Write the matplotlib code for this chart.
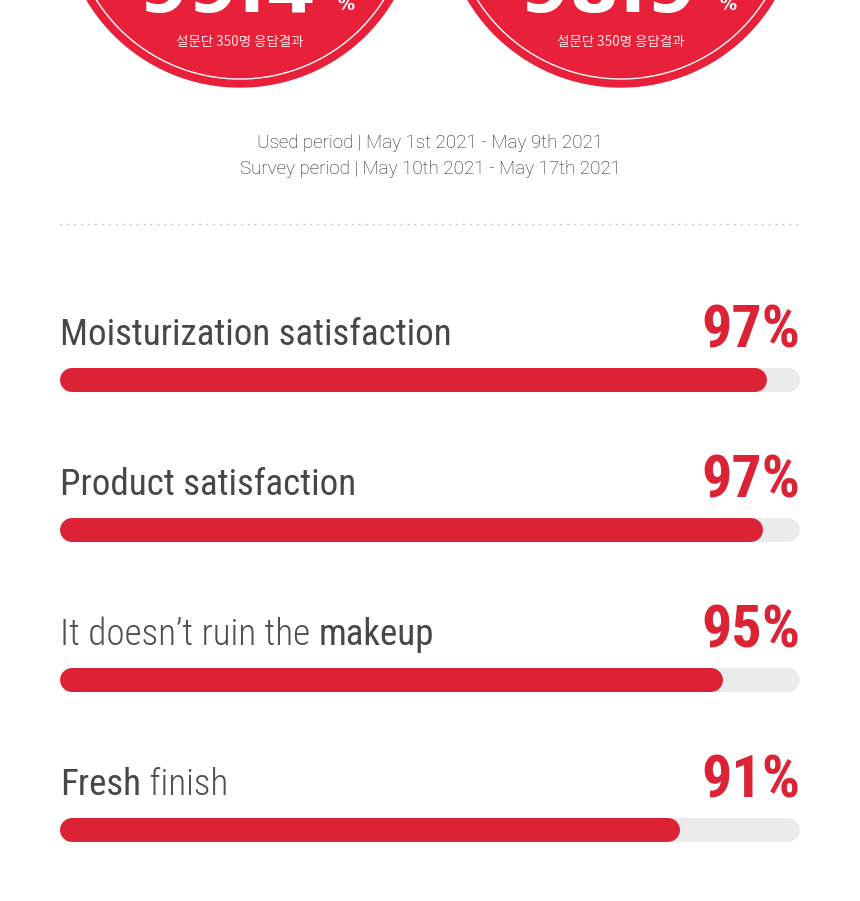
import matplotlib
matplotlib.use("Agg")
import matplotlib.pyplot as plt
import matplotlib.font_manager as fm
from matplotlib.patches import Circle

## Data
circle_values = ["99.4", "98.9"]                    # big numbers in the red badges (top is cut off)
circle_note = "설문단 350명 응답결과"
period_lines = ["Used period | May 1st 2021 - May 9th 2021",
                "Survey period | May 10th 2021 - May 17th 2021"]
# each label is split into (text, emphasised) pieces
label_parts = [[("Moisturization satisfaction", True)],
               [("Product satisfaction", True)],
               [("It doesn\u2019t ruin the ", False), ("makeup", True)],
               [("Fresh", True), (" finish", False)]]
percents = [97, 97, 95, 91]
bar_shown = [0.955, 0.950, 0.896, 0.838]            # filled share of each track as drawn

RED = "#dc2336"
BADGE = "#e8203a"
TRACK = "#ebebeb"
GREY = "#474747"


def pick(names, default="DejaVu Sans"):
    for n in names:
        try:
            fm.findfont(fm.FontProperties(family=n), fallback_to_default=False)
            return n
        except ValueError:
            pass
    return default


narrow = pick(["Roboto Condensed", "Liberation Sans Narrow", "DejaVu Sans Condensed"])
light = pick(["Roboto", "Lato", "Open Sans"])
kr = pick(["Noto Sans CJK KR", "Noto Sans CJK SC"])

W, H = 860, 901
fig = plt.figure(figsize=(W / 100, H / 100), dpi=100)
ax = fig.add_axes([0, 0, 1, 1])
ax.set_xlim(0, W)
ax.set_ylim(H, 0)
ax.axis("off")

def px(v):                                          # pixels -> points
    return v * 0.72

## Red badges at the top
centers = [240, 621]
for cx, val in zip(centers, circle_values):
    ax.add_patch(Circle((cx, -91), 178, color=BADGE, zorder=1))
    ax.add_patch(Circle((cx, -91), 170, fill=False, ec="white", lw=1.0, zorder=2))
    ax.text(cx - 13, 12, val, color="white", fontsize=px(72), fontweight="bold",
            ha="center", va="baseline", family="DejaVu Sans", zorder=3)
    ax.text(cx + 98, 10, "%", color="white", fontsize=px(17), fontweight="bold",
            ha="left", va="baseline", family="DejaVu Sans", zorder=3)
    ax.text(cx, 42, circle_note, color="#fde3e6", fontsize=px(13.5),
            ha="center", va="center", family=[kr, "DejaVu Sans"], zorder=3)

## Period text
for i, line in enumerate(period_lines):
    ax.text(430, 143 + 26 * i, line, color="#222222", fontsize=px(18.8), fontweight="light",
            ha="center", va="center", family=light)

## Dotted separator
ax.plot([60, 800], [224, 224], color="#b5b5b5", lw=1.0, linestyle=(0, (1, 4)))

## Bars
x0, x1 = 60, 800
bar_h = 24
fig.canvas.draw()
rend = fig.canvas.get_renderer()
for i, (parts, pct, frac) in enumerate(zip(label_parts, percents, bar_shown)):
    base = 345 + 150 * i
    ybar = 380 + 150 * i
    # label, piece by piece
    x = x0
    for txt, strong in parts:
        t = ax.text(x, base, txt, fontsize=px(37), ha="left", va="baseline",
                    family=narrow, color=GREY if strong else "#505050",
                    fontweight="normal" if strong else "light")
        bb = t.get_window_extent(renderer=rend)
        x += bb.width
    ax.text(x1, base + 3, "%d%%" % pct, fontsize=px(60), fontweight="bold",
            color=RED, ha="right", va="baseline", family=narrow)
    # track and fill with round caps
    ax.plot([x0 + bar_h / 2, x1 - bar_h / 2], [ybar, ybar], color=TRACK,
            lw=px(bar_h), solid_capstyle="round")
    ax.plot([x0 + bar_h / 2, x0 + frac * (x1 - x0) - bar_h / 2], [ybar, ybar], color=RED,
            lw=px(bar_h), solid_capstyle="round")

fig.savefig("out.png", dpi=100, facecolor="white")
